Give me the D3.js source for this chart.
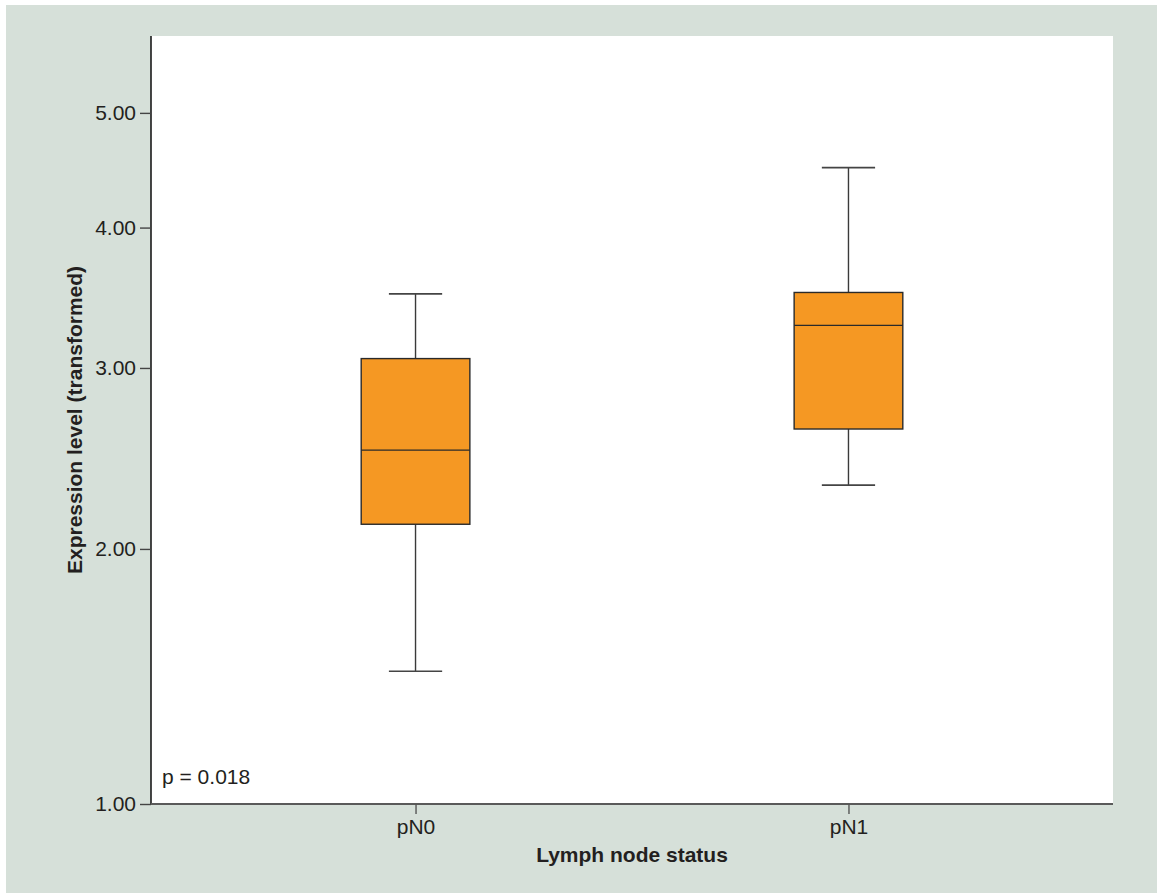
<!DOCTYPE html>
<html>
<head>
<meta charset="utf-8">
<script src="https://cdn.jsdelivr.net/npm/d3@7"></script>
<style>
  html, body { margin: 0; padding: 0; background: #ffffff; }
  svg { display: block; }
  text { font-family: "Liberation Sans", Arial, Helvetica, sans-serif; fill: #231f20; }
</style>
</head>
<body>
<svg id="chart" width="1157" height="893"></svg>
<script>
// ---- data ----
const categories = ["pN0", "pN1"];
const whiskerLow = [1.47, 2.32];
const q1 = [2.12, 2.63];
const medians = [2.51, 3.28];
const q3 = [3.06, 3.51];
const whiskerHigh = [3.50, 4.50];
const yTickValues = [1, 2, 3, 4, 5];
const pValueLabel = "p = 0.018";
const xTitle = "Lymph node status";
const yTitle = "Expression level (transformed)";

// ---- layout ----
const svg = d3.select("#chart");
const W = 1157, H = 893;
const plot = { left: 151, top: 36, right: 1113, bottom: 804 };
const fs = "21px";

svg.append("rect").attr("x", 6).attr("y", 5).attr("width", W - 6).attr("height", H - 5)
  .attr("fill", "#d6e0d9");
svg.append("rect").attr("x", plot.left).attr("y", plot.top)
  .attr("width", plot.right - plot.left).attr("height", plot.bottom - plot.top)
  .attr("fill", "#ffffff");

// transformed axis: log(value + 1)
const yLog = d3.scaleLog().domain([2, 6.78]).range([plot.bottom, plot.top]);
const y = v => yLog(v + 1);

const x = d3.scalePoint().domain(categories).range([plot.left, plot.right]).padding(0.611);
const boxW = x.step() * 0.251;
const capW = boxW * 0.49;

const data = categories.map((c, i) => ({
  c, lo: whiskerLow[i], q1: q1[i], med: medians[i], q3: q3[i], hi: whiskerHigh[i]
}));

const g = svg.append("g");
data.forEach(d => {
  const cx = x(d.c);
  g.append("line").attr("x1", cx).attr("x2", cx).attr("y1", y(d.hi)).attr("y2", y(d.q3))
    .attr("stroke", "#3a3a3a").attr("stroke-width", 1.4);
  g.append("line").attr("x1", cx).attr("x2", cx).attr("y1", y(d.q1)).attr("y2", y(d.lo))
    .attr("stroke", "#3a3a3a").attr("stroke-width", 1.4);
  g.append("line").attr("x1", cx - capW / 2).attr("x2", cx + capW / 2)
    .attr("y1", y(d.hi)).attr("y2", y(d.hi)).attr("stroke", "#444").attr("stroke-width", 1.6);
  g.append("line").attr("x1", cx - capW / 2).attr("x2", cx + capW / 2)
    .attr("y1", y(d.lo)).attr("y2", y(d.lo)).attr("stroke", "#444").attr("stroke-width", 1.6);
  g.append("rect").attr("x", cx - boxW / 2).attr("y", y(d.q3))
    .attr("width", boxW).attr("height", y(d.q1) - y(d.q3))
    .attr("fill", "#f59823").attr("stroke", "#2a2a2a").attr("stroke-width", 1.4);
  g.append("line").attr("x1", cx - boxW / 2).attr("x2", cx + boxW / 2)
    .attr("y1", y(d.med)).attr("y2", y(d.med))
    .attr("stroke", "#2a2a2a").attr("stroke-width", 1.4);
});

// y axis
const yAxis = d3.axisLeft(yLog)
  .tickValues(yTickValues.map(v => v + 1))
  .tickFormat(d => (d - 1).toFixed(2))
  .tickSize(11).tickPadding(4);
const gy = svg.append("g").attr("transform", `translate(${plot.left},0)`).call(yAxis);
gy.select(".domain").attr("stroke", "#1a1a1a").attr("stroke-width", 1.6)
  .attr("d", `M0,${plot.top}V${plot.bottom}`);
gy.selectAll(".tick line").attr("stroke", "#444").attr("stroke-width", 1.4);
gy.selectAll(".tick text").style("font-size", fs).attr("fill", "#231f20");

// x axis
const xAxis = d3.axisBottom(x).tickSize(10).tickPadding(5);
const gx = svg.append("g").attr("transform", `translate(0,${plot.bottom})`).call(xAxis);
gx.select(".domain").attr("stroke", "#5a5a5a").attr("stroke-width", 2.2)
  .attr("d", `M${plot.left},0H${plot.right}`);
gx.selectAll(".tick line").attr("stroke", "#555").attr("stroke-width", 1.4);
gx.selectAll(".tick text").style("font-size", fs).attr("fill", "#231f20");

// titles
svg.append("text").attr("x", (plot.left + plot.right) / 2).attr("y", 862)
  .attr("text-anchor", "middle").style("font-size", fs).style("font-weight", "bold")
  .text(xTitle);
svg.append("text").attr("transform", `translate(82,${(plot.top + plot.bottom) / 2}) rotate(-90)`)
  .attr("text-anchor", "middle").style("font-size", fs).style("font-weight", "bold")
  .text(yTitle);

// p value
svg.append("text").attr("x", 162).attr("y", 784).style("font-size", fs).text(pValueLabel);
</script>
</body>
</html>
